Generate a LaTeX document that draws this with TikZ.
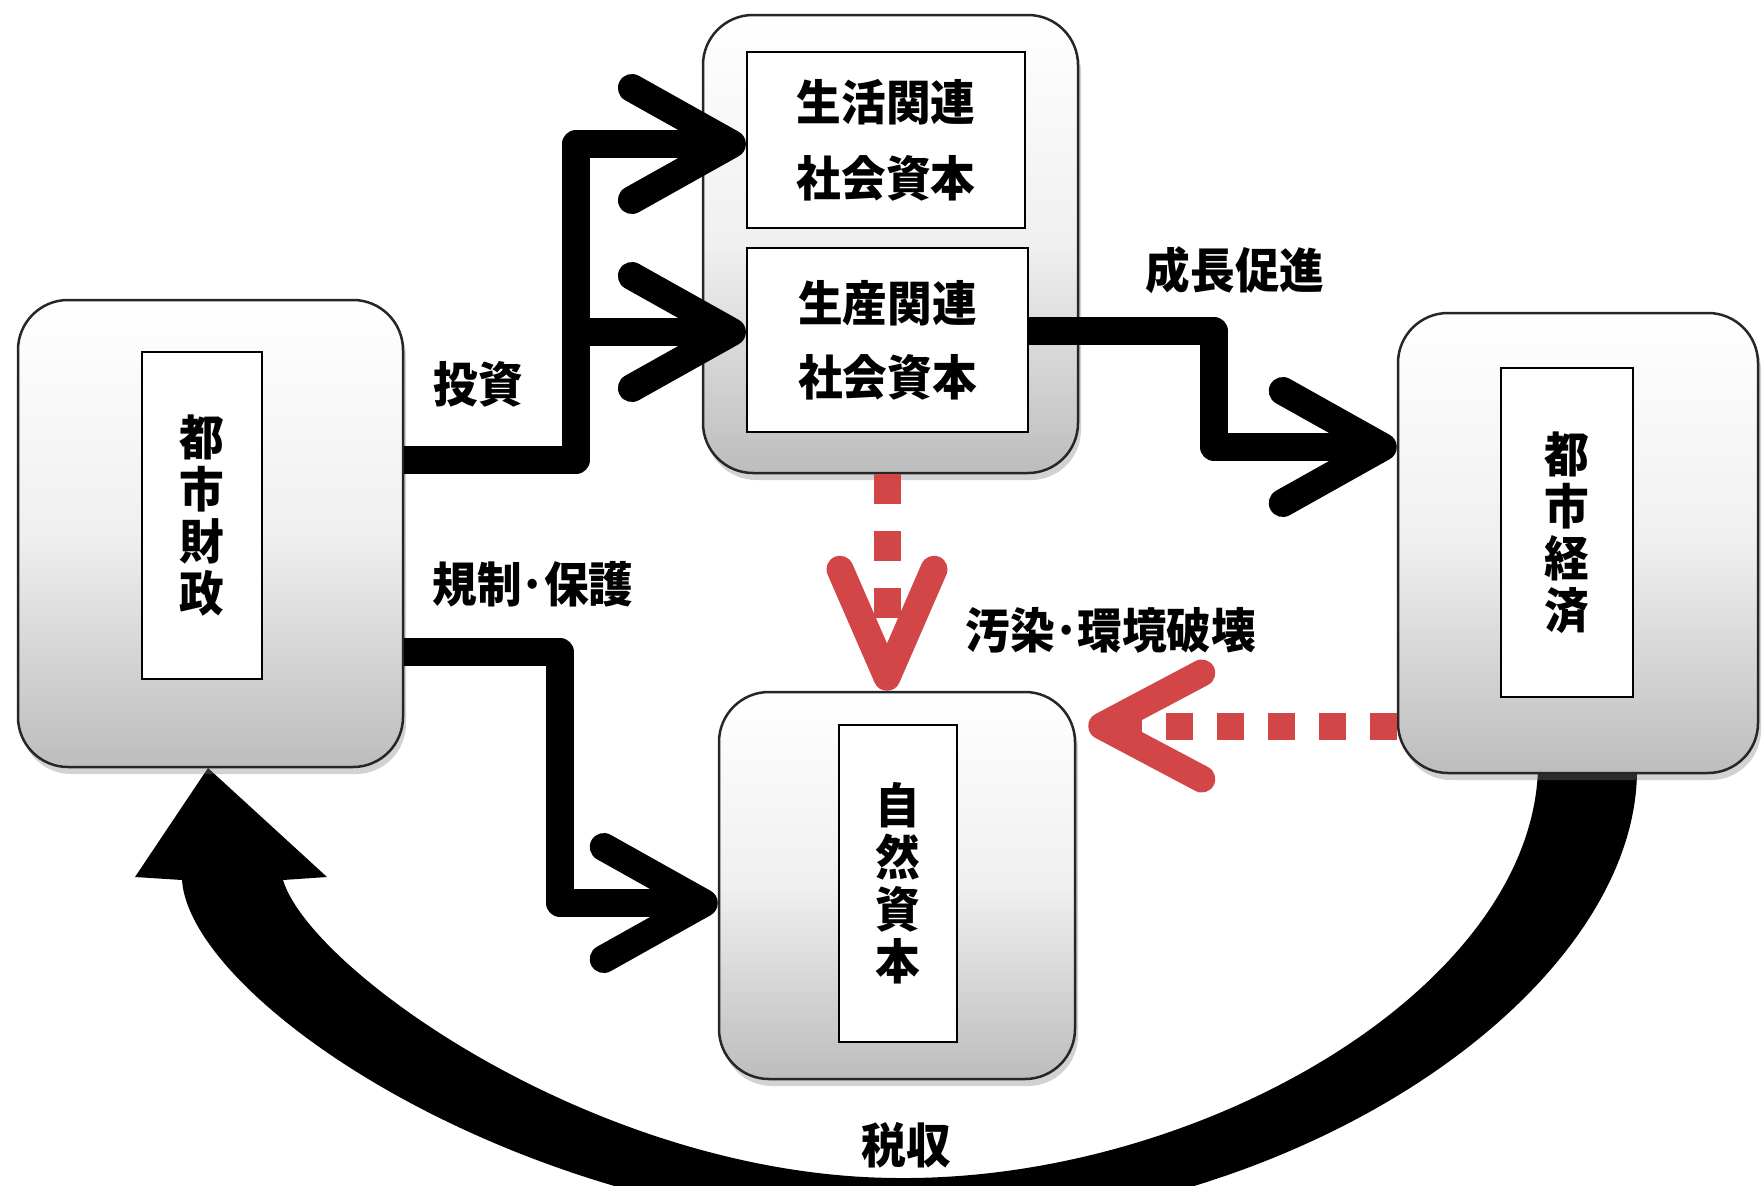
\documentclass[tikz,border=0pt]{standalone}
\usepackage{fontspec}
\newfontfamily\jp{Noto Sans CJK JP}[FakeStretch=0.93]
\usetikzlibrary{arrows.meta,shadows,calc}
\definecolor{redarr}{RGB}{210,70,72}
\tikzset{
  bigbox/.style={draw=black!85, line width=2.5pt, rounded corners=50pt,
    top color=white, bottom color=black!26, middle color=black!6, inner sep=0pt,
    drop shadow={shadow xshift=3pt, shadow yshift=-7pt, opacity=0.35}},
  inbox/.style={draw=black, line width=2.2pt, fill=white, inner sep=0pt, align=center},
  jpfont/.style={font=\jp\bfseries\fontsize{48}{#1}\selectfont},
  lbl/.style={jpfont=52, inner sep=0pt},
  flow/.style={line width=28pt, line join=round, draw=black,
    -{Straight Barb[length=100pt,width=112pt,round]}},
  pol/.style={line width=27pt, draw=redarr}
}
\begin{document}
\begin{tikzpicture}[x=1pt,y=-1pt]
\clip (0,0) rectangle (1762,1186);
\fill[white] (0,0) rectangle (1762,1186);
% tax revenue curved arrow (drawn beneath the boxes)
\fill[black] (1637,770) .. controls (1637,990) and (1300,1230) .. (900,1230)
  .. controls (520,1225) and (190,1000) .. (182,880)
  -- (135,877) -- (208,768) -- (327,877) -- (283,880)
  .. controls (310,970) and (600,1178) .. (900,1178)
  .. controls (1200,1180) and (1530,990) .. (1538,770) -- cycle;
% boxes
\node[bigbox, minimum width=385pt, minimum height=467pt] (fin) at (210.5,533.5) {};
\node[inbox, jpfont=52, minimum width=120pt, minimum height=327pt] (finin) at (202,515.5) {都\\市\\財\\政};
\node[bigbox, minimum width=375pt, minimum height=458pt] (soc) at (890.5,244) {};
\node[inbox, jpfont=76, minimum width=278pt, minimum height=176pt] (life) at (886,140) {生活関連\\社会資本};
\node[inbox, jpfont=74, minimum width=281pt, minimum height=184pt] (prod) at (887.5,340) {生産関連\\社会資本};
\node[bigbox, minimum width=360pt, minimum height=460pt] (econ) at (1578,543) {};
\node[inbox, jpfont=52, minimum width=132pt, minimum height=329pt] (econin) at (1567,532.5) {都\\市\\経\\済};
\node[bigbox, minimum width=356pt, minimum height=387pt] (nat) at (897,885.5) {};
\node[inbox, jpfont=52, minimum width=118pt, minimum height=317pt] (natin) at (898,883.5) {自\\然\\資\\本};
% labels
\node[lbl] (linv) at (478,384) {投資};
\node[lbl] (lreg) at (533,584) {規制･保護};
\node[lbl] (lgro) at (1235,270) {成長促進};
\node[lbl] (lpol) at (1111,630) {汚染･環境破壊};
\node[lbl] (ltax) at (906,1145) {税収};
% black flows
\coordinate (split) at (576,332);
\draw[flow] (fin.east |- 0,460) -| (576,144) -- (life.west |- 0,144);
\draw[flow] (split) -- (prod.west |- 0,332);
\draw[flow] (prod.east |- 0,331) -| (1214,447) -- (econ.west |- 0,447);
\draw[flow] (fin.east |- 0,652) -| (560,903) -- (nat.west |- 0,903);
% red dashed flows
\draw[pol, dash pattern=on 30pt off 27pt, -{Straight Barb[length=108pt,width=94pt,round]}] (soc.south -| 887,0) -- (nat.north -| 887,0);
\draw[pol, dash pattern=on 27pt off 24pt, -{Straight Barb[length=100pt,width=106pt,round]}] (econ.west |- 0,726) -- ($(nat.east |- 0,726)+(12,0)$);
\end{tikzpicture}
\end{document}
